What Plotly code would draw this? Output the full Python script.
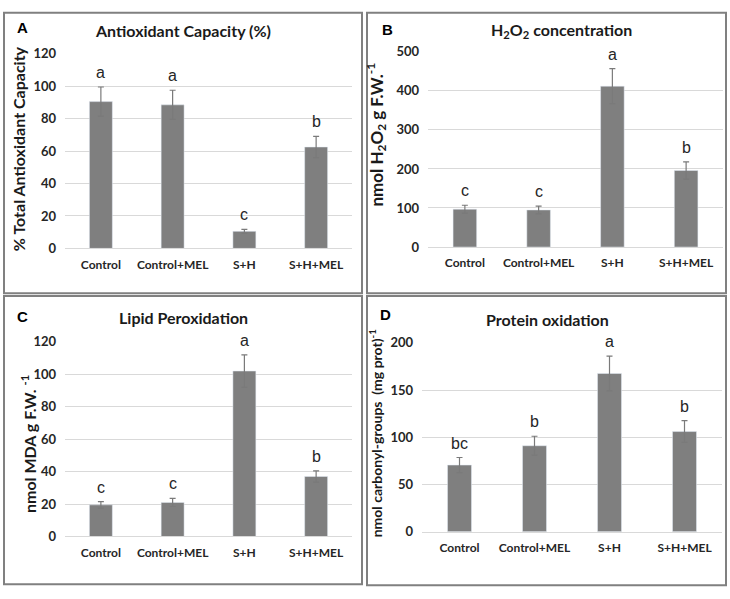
import plotly.graph_objects as go

########### Data ######

groups = ['Control', 'Control+MEL', 'S+H', 'S+H+MEL']

antiox = [90.5, 88.5, 10.5, 62.5]
antiox_err = [9, 9, 1.2, 6.5]
antiox_sig = ['a', 'a', 'c', 'b']

h2o2 = [97, 95, 412, 196]
h2o2_err = [10, 10, 45, 22]
h2o2_sig = ['c', 'c', 'a', 'b']

mda = [19.5, 21, 102, 37]
mda_err = [2, 2.5, 10, 3.5]
mda_sig = ['c', 'c', 'a', 'b']

carbonyl = [70.5, 91, 167.5, 106]
carbonyl_err = [8, 10, 18.5, 11.5]
carbonyl_sig = ['bc', 'b', 'a', 'b']

W, H = 730, 599
BAR = '#7f7f7f'
FONT = 'Lato'


def px(x):
    return x / W


def py(y):
    return 1 - y / H


# panel definitions (pixel layout)
panels = [
    dict(vals=antiox, err=antiox_err, sig=antiox_sig, yr=[0, 120], dt=20,
         xd=[65, 352], yd=[247, 47], box=[4, 5, 362, 293],
         title='Antioxidant Capacity (%)', tx=183, ty=23, letter='A', lx=22, ly=20,
         ytitle='% Total Antioxidant Capacity', ytx=18, yty=145, ysize=16),
    dict(vals=h2o2, err=h2o2_err, sig=h2o2_sig, yr=[0, 500], dt=100,
         xd=[428, 723], yd=[245.6, 45], box=[367, 5, 726, 293],
         title='H<sub>2</sub>O<sub>2</sub> concentration', tx=561, ty=23, letter='B', lx=387, ly=22,
         ytitle='nmol H<sub>2</sub>O<sub>2</sub> g F.W.<sup>-1</sup>', ytx=376, yty=130, ysize=17),
    dict(vals=mda, err=mda_err, sig=mda_sig, yr=[0, 120], dt=20,
         xd=[65, 352], yd=[543, 343], box=[4, 296, 362, 592],
         title='Lipid Peroxidation', tx=183, ty=318, letter='C', lx=22, ly=317,
         ytitle='nmol MDA g F.W. <sup>-1</sup>', ytx=28, yty=448, ysize=16),
    dict(vals=carbonyl, err=carbonyl_err, sig=carbonyl_sig, yr=[0, 200], dt=50,
         xd=[422, 722], yd=[538, 344], box=[367, 296, 726, 593],
         title='Protein oxidation', tx=547, ty=320, letter='D', lx=385, ly=315,
         ytitle='nmol carbonyl-groups  (mg prot)<sup>-1</sup>', ytx=375, yty=437, ysize=14),
]

fig = go.Figure()
annotations = []
shapes = []
layout = {}

for i, p in enumerate(panels):
    n = '' if i == 0 else str(i + 1)
    xa, ya = 'x' + n, 'y' + n
    fig.add_trace(go.Bar(
        x=groups, y=p['vals'], width=0.32, marker_color=BAR,
        error_y=dict(type='data', array=p['err'], color='#7a7a7a', thickness=1.2, width=3),
        xaxis=xa, yaxis=ya, showlegend=False))

    layout['xaxis' + n] = dict(
        domain=[px(p['xd'][0]), px(p['xd'][1])], anchor=ya,
        showgrid=False, showline=True, linecolor='#d9d9d9', linewidth=1,
        ticks='', ticklabelstandoff=5,
        tickfont=dict(family=FONT, size=12, color='#262626', weight='bold'))
    layout['yaxis' + n] = dict(
        domain=[py(p['yd'][0]), py(p['yd'][1])], anchor=xa,
        range=p['yr'], dtick=p['dt'], showgrid=True, gridcolor='#d9d9d9',
        zeroline=False, showline=False, ticks='', ticklabelstandoff=8,
        tickfont=dict(family=FONT, size=13, color='#262626', weight='bold'))

    # significance letters
    for g, v, e, s in zip(groups, p['vals'], p['err'], p['sig']):
        annotations.append(dict(
            x=g, y=v + e, xref=xa, yref=ya, text=s, showarrow=False,
            yanchor='bottom', yshift=4,
            font=dict(family='Liberation Sans', size=16, color='#262626')))

    annotations.append(dict(
        x=px(p['tx']), y=py(p['ty']), xref='paper', yref='paper', text='<b>' + p['title'] + '</b>',
        showarrow=False, xanchor='center', yanchor='middle',
        font=dict(family=FONT, size=16, color='#1a1a1a')))
    annotations.append(dict(
        x=px(p['lx']), y=py(p['ly']), xref='paper', yref='paper', text='<b>' + p['letter'] + '</b>',
        showarrow=False, xanchor='center', yanchor='middle',
        font=dict(family='Liberation Sans', size=15, color='black')))
    annotations.append(dict(
        x=px(p['ytx']), y=py(p['yty']), xref='paper', yref='paper', text='<b>' + p['ytitle'] + '</b>',
        showarrow=False, xanchor='center', yanchor='middle', textangle=-90,
        font=dict(family=FONT, size=p['ysize'], color='#1a1a1a')))

    b = p['box']
    shapes.append(dict(type='rect', xref='paper', yref='paper',
                       x0=px(b[0]), x1=px(b[2]), y0=py(b[3]), y1=py(b[1]),
                       line=dict(color='#808080', width=2)))

fig.update_layout(
    width=W, height=H,
    margin=dict(l=0, r=0, t=0, b=0),
    paper_bgcolor='white', plot_bgcolor='white',
    annotations=annotations, shapes=shapes,
    **layout)

# drop the default page margin so the figure sits at the window origin
fig.write_html("out.html", config={'displayModeBar': False},
               post_script="document.body.style.margin='0';")
